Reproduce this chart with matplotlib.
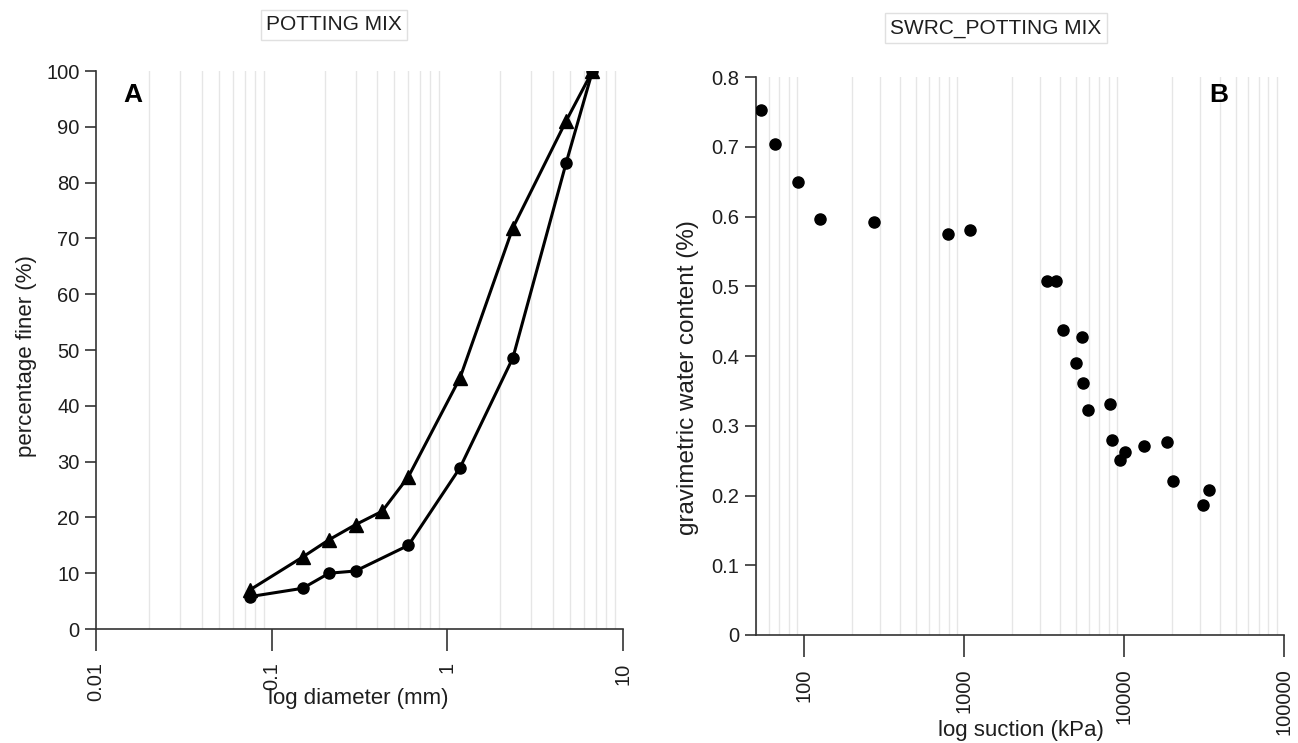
import numpy as np
import matplotlib
matplotlib.use("Agg")
import matplotlib.pyplot as plt
from matplotlib.ticker import FixedLocator, LogLocator, NullFormatter, FuncFormatter

plt.rcParams['font.family'] = ['Liberation Sans', 'DejaVu Sans']

# grain size distribution (sieve sizes, mm)
sieve_tri = [0.075, 0.15, 0.212, 0.3, 0.425, 0.6, 1.18, 2.36, 4.75, 6.7]
finer_tri = [7.0, 12.9, 16.0, 18.7, 21.1, 27.3, 45.0, 71.9, 91.1, 100.0]
sieve_circ = [0.075, 0.15, 0.212, 0.3, 0.6, 1.18, 2.36, 4.75, 6.7]
finer_circ = [5.8, 7.3, 10.0, 10.4, 15.0, 28.9, 48.6, 83.6, 100.0]

# soil water retention curve
suction = [54, 66, 91, 126, 272, 788, 1089, 3300, 3770, 4180, 5440, 5000,
           5570, 5950, 8190, 8440, 9450, 10080, 13300, 18600, 20250, 31350, 34100]
water = [0.753, 0.704, 0.650, 0.596, 0.593, 0.575, 0.581, 0.508, 0.508, 0.437,
         0.428, 0.390, 0.361, 0.323, 0.331, 0.280, 0.251, 0.263, 0.271, 0.277,
         0.221, 0.187, 0.208]

txt = '#1e1e1e'
ax_col = '#333333'

fig = plt.figure(figsize=(12.98, 7.43), dpi=100)
axA = fig.add_axes([0.074, 0.1534, 0.406, 0.751])
axB = fig.add_axes([0.5824, 0.1454, 0.4068, 0.7506])


def style(ax, xmajor):
    ax.set_xscale('log')
    for s in ('top', 'right'):
        ax.spines[s].set_visible(False)
    for s in ('left', 'bottom'):
        ax.spines[s].set_color(ax_col)
        ax.spines[s].set_linewidth(1.2)
    ax.xaxis.set_major_locator(FixedLocator(xmajor))
    ax.xaxis.set_major_formatter(FuncFormatter(lambda v, p: ('%g' % v) if v < 1e5 else '100000'))
    ax.xaxis.set_minor_locator(LogLocator(base=10, subs=np.arange(2, 10)))
    ax.xaxis.set_minor_formatter(NullFormatter())
    ax.grid(which='minor', axis='x', color='#e6e6e6', lw=1.0)
    ax.set_axisbelow(True)
    ax.tick_params(axis='x', which='major', length=16, width=1.2, color=ax_col,
                   labelsize=14.5, labelcolor=txt, labelrotation=90, pad=8)
    ax.tick_params(axis='x', which='minor', length=0)
    ax.tick_params(axis='y', length=8, width=1.2, color=ax_col,
                   labelsize=14.5, labelcolor=txt, pad=4)


# A: particle size distribution
style(axA, [0.01, 0.1, 1, 10])
axA.plot(sieve_tri, finer_tri, color='black', lw=2.2, marker='^', ms=9.5, zorder=3)
axA.plot(sieve_circ, finer_circ, color='black', lw=2.2, marker='o', ms=8, zorder=3)
axA.set_xlim(0.01, 10)
axA.set_ylim(0, 100)
axA.set_yticks(np.arange(0, 101, 10))
axA.set_xlabel('log diameter (mm)', fontsize=16, color=txt)
axA.set_ylabel('percentage finer (%)', fontsize=16, color=txt)
axA.xaxis.set_label_coords(0.498, -0.106)
axA.yaxis.set_label_coords(-0.112, 0.49)
axA.text(0.07, 0.957, 'A', transform=axA.transAxes, fontsize=19, fontweight='bold',
         ha='center', va='center', color='black')

# B: water retention
style(axB, [100, 1000, 10000, 100000])
axB.plot(suction, water, 'o', color='black', ms=8, zorder=3)
axB.set_xlim(50, 100000)
axB.set_ylim(0, 0.8)
axB.set_yticks(np.arange(0, 0.81, 0.1))
axB.yaxis.set_major_formatter(FuncFormatter(lambda v, p: '%g' % round(v, 1)))
axB.set_xlabel('log suction (kPa)', fontsize=16, color=txt)
axB.set_ylabel('gravimetric water content (%)', fontsize=17.5, color=txt)
axB.xaxis.set_label_coords(0.502, -0.152)
axB.yaxis.set_label_coords(-0.108, 0.461)
axB.text(0.877, 0.968, 'B', transform=axB.transAxes, fontsize=19, fontweight='bold',
         ha='center', va='center', color='black')

box = dict(boxstyle='square,pad=0.25', facecolor='white', edgecolor='#e0e0e0', lw=1)
fig.text(334 / 1298, 1 - 25 / 743, 'POTTING MIX', ha='center', va='center',
         fontsize=15, color=txt, bbox=box)
fig.text(996 / 1298, 1 - 28 / 743, 'SWRC_POTTING MIX', ha='center', va='center',
         fontsize=15, color=txt, bbox=box)

fig.savefig('out.png', dpi=100)
